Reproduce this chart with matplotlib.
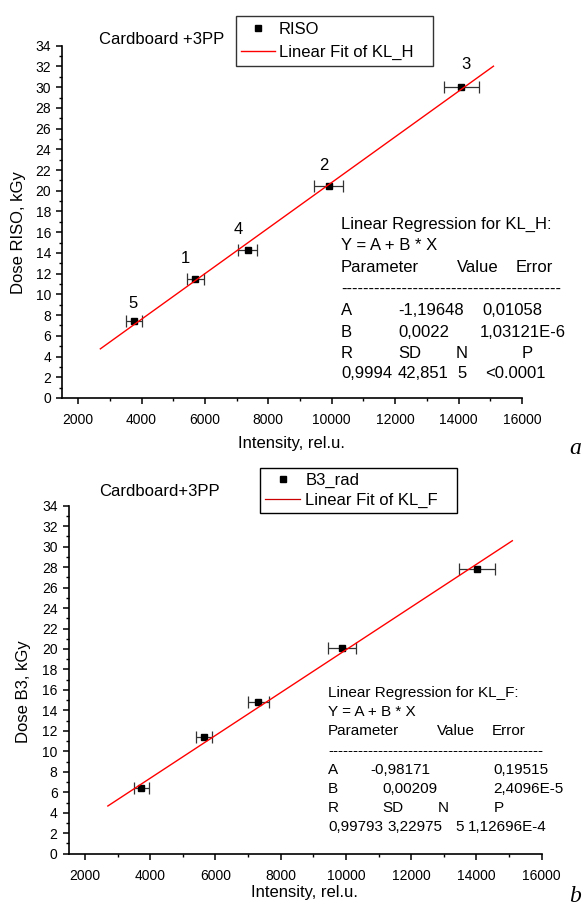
import numpy as np
import matplotlib
matplotlib.use('Agg')
import matplotlib.pyplot as plt
from matplotlib.ticker import MultipleLocator
from matplotlib.lines import Line2D

plt.rcParams['font.family'] = ['Liberation Sans', 'DejaVu Sans']

# ---- data (points numbered 1..5) ----
point_ids = ['1', '2', '3', '4', '5']

intensity_a = [5700, 9900, 14080, 7350, 3750]
dose_riso = [11.5, 20.5, 30.0, 14.3, 7.4]
xerr_a = [254, 450, 555, 307, 250]

intensity_b = [5660, 9870, 14020, 7310, 3730]
dose_b3 = [11.4, 20.1, 27.8, 14.8, 6.4]
xerr_b = [245, 435, 560, 316, 236]

# linear fits  Y = A + B*X
fit_a = (-1.19648, 0.0022)
fit_b = (-0.98171, 0.00209)
fit_range = [2700, 15100]

# regression report tables
report_a = [
    ['Linear Regression for KL_H:'],
    ['Y = A + B * X'],
    ['Parameter', 'Value', 'Error'],
    ['-' * 40],
    ['A', '-1,19648', '0,01058'],
    ['B', '0,0022', '1,03121E-6'],
    ['R', 'SD', 'N', 'P'],
    ['0,9994', '42,851', '5', '<0.0001'],
]
report_b = [
    ['Linear Regression for KL_F:'],
    ['Y = A + B * X'],
    ['Parameter', 'Value', 'Error'],
    ['-' * 43],
    ['A', '-0,98171', '0,19515'],
    ['B', '0,00209', '2,4096E-5'],
    ['R', 'SD', 'N', 'P'],
    ['0,99793', '3,22975', '5', '1,12696E-4'],
]

# ---- layout helpers (pixel -> figure fraction) ----
W, H = 586, 908
fig = plt.figure(figsize=(W / 100, H / 100), dpi=100)


def fx(x):
    return x / W


def fy(y):
    return 1 - y / H


def ptext(x, y, s, **kw):
    kw.setdefault('va', 'center')
    kw.setdefault('ha', 'left')
    kw.setdefault('fontsize', 12)
    fig.text(fx(x), fy(y), s, **kw)


def setup_axes(left, right, top, bottom):
    ax = fig.add_axes([fx(left), fy(bottom), (right - left) / W, (bottom - top) / H])
    ax.set_xlim(1500, 16000)
    ax.set_ylim(0, 34)
    ax.xaxis.set_major_locator(MultipleLocator(2000))
    ax.xaxis.set_minor_locator(MultipleLocator(1000))
    ax.yaxis.set_major_locator(MultipleLocator(2))
    ax.yaxis.set_minor_locator(MultipleLocator(1))
    for s in ['top', 'right']:
        ax.spines[s].set_visible(False)
    for s in ['left', 'bottom']:
        ax.spines[s].set_linewidth(1.2)
    ax.tick_params(which='major', direction='out', length=4.5, width=1.1,
                   labelsize=10)
    ax.tick_params(axis='x', which='major', pad=6.5)
    ax.tick_params(axis='y', which='major', pad=3.5)
    ax.tick_params(which='minor', direction='out', length=2.5, width=1.0)
    return ax


def draw_data(ax, x, y, xerr, fit):
    ax.errorbar(x, y, xerr=xerr, fmt='none', ecolor='#333333', elinewidth=0.9,
                capsize=4.5, capthick=0.9, zorder=2)
    ax.plot(x, y, 's', color='black', markersize=5, zorder=3)
    xf = np.array(fit_range, dtype=float)
    ax.plot(xf, fit[0] + fit[1] * xf, color='red', lw=1.0, zorder=4)


def draw_report(rows, cols, y_rows, size):
    for row, y, cx in zip(rows, y_rows, cols):
        for s, x in zip(row, cx):
            ptext(x, y, s, fontsize=size)


# ---------------- panel a ----------------
ax1 = setup_axes(62.3, 522, 45.7, 398)
draw_data(ax1, intensity_a, dose_riso, xerr_a, fit_a)

label_off = [(-7.6, 14.4), (-3.8, 14.4), (3.2, 16.3), (-7.2, 14.4), (-0.7, 13)]
for pid, x, y, off in zip(point_ids, intensity_a, dose_riso, label_off):
    ax1.annotate(pid, (x, y), xytext=off, textcoords='offset points',
                 ha='center', va='center', fontsize=12)

ptext(99, 39.4, 'Cardboard +3PP')
ptext(291, 443, 'Intensity, rel.u.', ha='center')
ptext(18.8, 233, 'Dose RISO, kGy', ha='center', rotation=90)
ptext(575, 448, 'a', ha='center', fontsize=17, style='italic',
      family='Liberation Serif')

h_pt = Line2D([], [], ls='none', marker='s', color='black', markersize=5)
h_fit_a = Line2D([], [], color='red', lw=1.0)
fig.legend([h_pt, h_fit_a], ['RISO', 'Linear Fit of KL_H   '],
           loc='upper left', bbox_to_anchor=(fx(235.5), fy(15.7)),
           borderaxespad=0, borderpad=0.35, handlelength=2.0, handletextpad=0.25,
           labelspacing=0.5, fontsize=12, frameon=True, fancybox=False,
           edgecolor='#333333', framealpha=1)

cols_a = [[341], [341], [341, 457, 516], [341], [341, 398, 482],
          [341, 398, 480], [341, 398, 456, 522], [341, 398, 457, 485]]
rows_y_a = [224.3, 246, 267.7, 289.3, 310.7, 332.3, 353, 374]
draw_report(report_a, cols_a, rows_y_a, 12)

# ---------------- panel b ----------------
ax2 = setup_axes(68.7, 541.7, 505.7, 853.7)
draw_data(ax2, intensity_b, dose_b3, xerr_b, fit_b)

ptext(99, 491.7, 'Cardboard+3PP')
ptext(304, 893, 'Intensity, rel.u.', ha='center')
ptext(24, 692, 'Dose B3, kGy', ha='center', rotation=90)
ptext(575, 897, 'b', ha='center', fontsize=17, style='italic',
      family='Liberation Serif')

h_fit_b = Line2D([], [], color='#cc0000', lw=0.9)
fig.legend([h_pt, h_fit_b], ['B3_rad', 'Linear Fit of KL_F   '],
           loc='upper left', bbox_to_anchor=(fx(260.3), fy(468.3)),
           borderaxespad=0, borderpad=0.3, handlelength=2.1, handletextpad=0.3,
           labelspacing=0.25, fontsize=12, frameon=True, fancybox=False,
           edgecolor='black', framealpha=1)

cols_b = [[328], [328], [328, 437, 492], [328], [328, 370, 493],
          [328, 382, 493], [328, 382, 438, 494], [328, 387, 455, 468]]
rows_y_b = [693, 712, 731, 751, 770, 789, 808, 827]
draw_report(report_b, cols_b, rows_y_b, 11)

fig.savefig('out.png', dpi=100)
